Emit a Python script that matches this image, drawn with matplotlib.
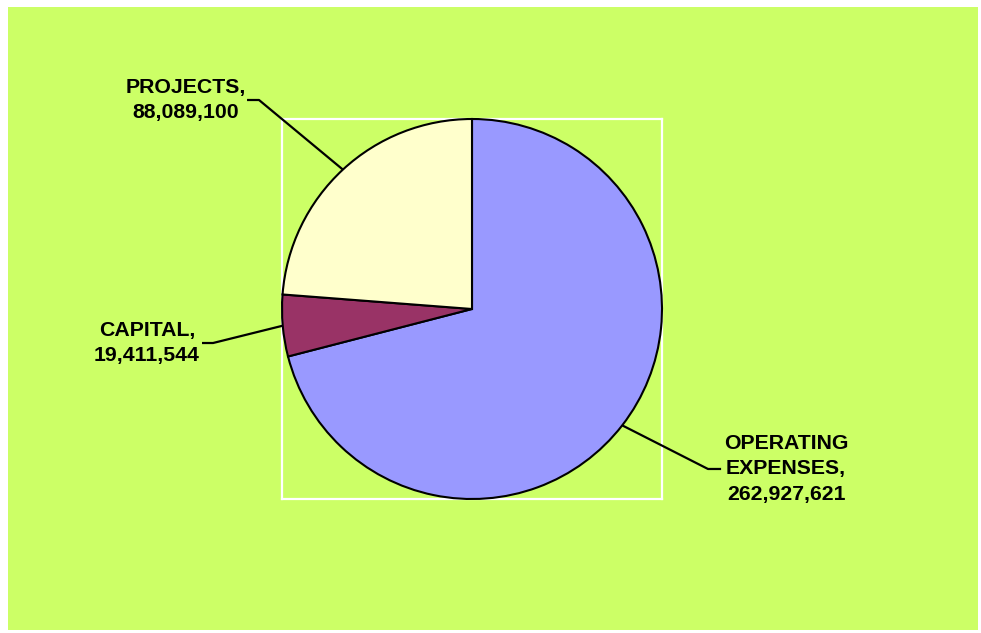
import numpy as np
import matplotlib
matplotlib.use("Agg")
import matplotlib.pyplot as plt
from matplotlib.patches import Rectangle

# data
labels = ["OPERATING\nEXPENSES,", "CAPITAL,", "PROJECTS,"]
values = [262927621, 19411544, 88089100]
colours = ["#9999FF", "#993366", "#FFFFCC"]

# label layout: (elbow x, text-side x, y, text x) in pie radius units
label_pos = [(1.242, 1.311, -0.842, 1.653),
             (-1.363, -1.421, -0.179, -1.711),
             (-1.121, -1.184, 1.100, -1.505)]

plt.rcParams['font.family'] = ['Liberation Sans', 'DejaVu Sans']

W, H = 981, 633
fig = plt.figure(figsize=(W / 100, H / 100), dpi=100, facecolor="white")
fig.patches.append(Rectangle((8 / W, 3 / H), 970 / W, 623 / H, transform=fig.transFigure,
                             facecolor="#CCFF66", edgecolor="none", zorder=-10))

ax = fig.add_axes([282 / W, (H - 499) / H, 380 / W, 380 / H])

wedges, _ = ax.pie(values, colors=colours, startangle=90, counterclock=False,
                   radius=1.0, wedgeprops=dict(edgecolor="black", linewidth=1.5))
ax.set_xlim(-1, 1)
ax.set_ylim(-1, 1)
ax.set_aspect("equal")
ax.set_frame_on(True)
ax.set_facecolor("none")
for s in ax.spines.values():
    s.set_color("white")
    s.set_linewidth(1.6)
    s.set_zorder(0)
ax.set_xticks([])
ax.set_yticks([])

for w, lab, v, (ex, hx, ly, tx) in zip(wedges, labels, values, label_pos):
    ang = np.deg2rad((w.theta1 + w.theta2) / 2)
    ax0, ay0 = np.cos(ang), np.sin(ang)
    ax.plot([ax0, ex, hx], [ay0, ly, ly], color="black", lw=1.6, clip_on=False,
            solid_capstyle="butt")
    ax.text(tx, ly, lab + "\n" + f"{v:,}", ha="center", va="center",
            multialignment="center", fontsize=15.3, fontweight="bold",
            linespacing=1.42, clip_on=False)

fig.savefig("out.png", dpi=100, facecolor=fig.get_facecolor())
